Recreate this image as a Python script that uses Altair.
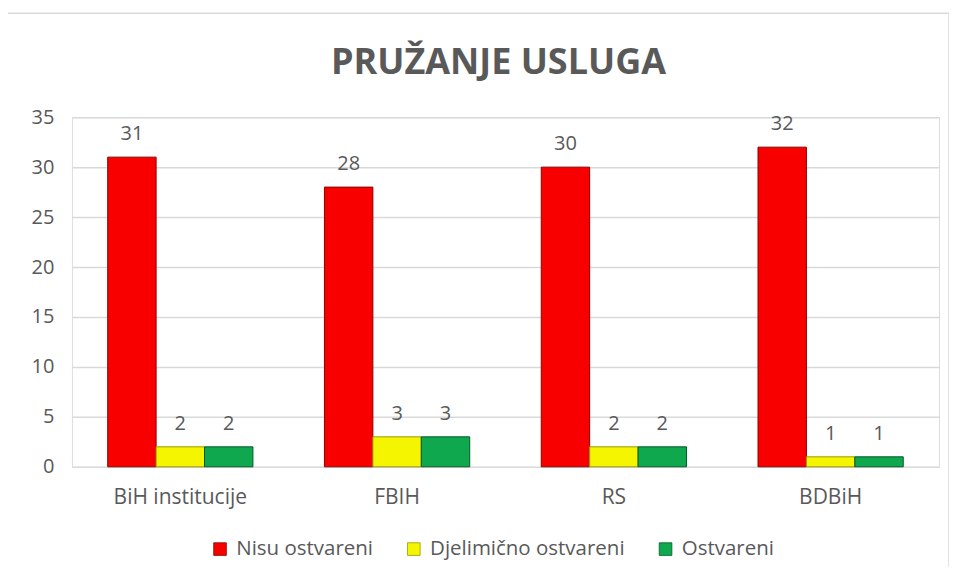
import altair as alt
import pandas as pd

categories = ["BiH institucije", "FBIH", "RS", "BDBiH"]
series = ["Nisu ostvareni", "Djelimično ostvareni", "Ostvareni"]
nisu_ostvareni = [31, 28, 30, 32]
djelimicno_ostvareni = [2, 3, 2, 1]
ostvareni = [2, 3, 2, 1]
y_ticks = [0, 5, 10, 15, 20, 25, 30, 35]

colors = ["#F80000", "#F5F500", "#0FA84E"]
strokes = ["#8C0000", "#9A9A00", "#005A25"]
TXT = "#595959"
FONT = "Open Sans"

rows = []
for i, c in enumerate(categories):
    for s, vals in zip(series, [nisu_ostvareni, djelimicno_ostvareni, ostvareni]):
        rows.append({"cat": c, "series": s, "value": vals[i]})
df = pd.DataFrame(rows)

x = alt.X("cat:N", sort=categories,
          scale=alt.Scale(paddingInner=0.33, paddingOuter=0.165),
          axis=alt.Axis(title=None, labelAngle=0, ticks=False, domain=False,
                        labelPadding=20, labelFontSize=21, labelColor=TXT,
                        labelFont=FONT, grid=False))
xo = alt.XOffset("series:N", sort=series,
                 scale=alt.Scale(paddingInner=0, paddingOuter=0))
y = alt.Y("value:Q", scale=alt.Scale(domain=[0, 35], nice=False),
          axis=alt.Axis(values=y_ticks, title=None, ticks=False, domain=False,
                        labelPadding=18, labelFontSize=20, labelColor=TXT,
                        labelFont=FONT, gridColor="#D9D9D9", gridWidth=1.5))

color = alt.Color("series:N", sort=series,
                  scale=alt.Scale(domain=series, range=colors),
                  legend=alt.Legend(orient="none", legendX=138, legendY=422,
                                    direction="horizontal", title=None,
                                    symbolType="square", symbolSize=160,
                                    symbolStrokeWidth=0.8,
                                    labelFontSize=20.5, labelColor=TXT,
                                    labelFont=FONT, labelOffset=6,
                                    labelLimit=400, columnPadding=30))
stroke = alt.Stroke("series:N", sort=series,
                    scale=alt.Scale(domain=series, range=strokes), legend=None)

base = alt.Chart(df)

bars = base.mark_bar(strokeWidth=1).encode(x=x, xOffset=xo, y=y, color=color, stroke=stroke)

labels = base.mark_text(dy=-17, baseline="alphabetic", fontSize=20, font=FONT,
                        color=TXT).encode(x=x, xOffset=xo, y=y, text="value:Q")

frame = alt.Chart(alt.Data(values=[{}])).mark_rect(
    fill=None, stroke="#D9D9D9", strokeWidth=1.5, clip=False
).encode(x=alt.value(-65), x2=alt.value(878), y=alt.value(-104), y2=alt.value(490))

chart = alt.layer(frame, bars, labels).properties(
    width=868, height=350,
    title=alt.TitleParams("PRUŽANJE USLUGA", font=FONT, fontSize=36,
                          fontWeight="bold", color=TXT, anchor="middle",
                          frame="group", baseline="alphabetic",
                          offset=-98, dx=-7),
    autosize=alt.AutoSizeParams(type="none"),
    padding={"left": 64, "top": 109, "right": 10, "bottom": 100},
).configure_view(stroke=None).configure(background="white")

chart.save("out.html", embed_options={"renderer": "svg", "actions": False})
